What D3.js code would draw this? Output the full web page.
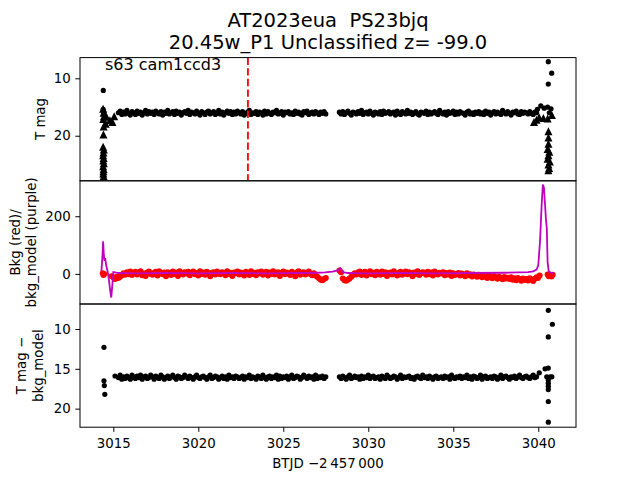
<!DOCTYPE html>
<html><head><meta charset="utf-8">
<script src="https://cdn.jsdelivr.net/npm/d3@7"></script>
<style>body{margin:0;background:#fff} svg{display:block} text{font-family:"DejaVu Sans",sans-serif;fill:#000;white-space:pre}</style>
</head><body><svg id="c" width="640" height="480"></svg>
<script>
// ---------------- data ----------------
const timesA = [3015.3,3015.4,3015.5,3015.6,3015.7,3015.8,3015.9,3016.0,3016.1,3016.2,
3016.3,3016.4,3016.5,3016.6,3016.7,3016.8,3016.9,3017.0,3017.1,3017.2,
3017.3,3017.4,3017.5,3017.6,3017.7,3017.8,3017.9,3018.0,3018.1,3018.2,
3018.3,3018.4,3018.5,3018.6,3018.7,3018.8,3018.9,3019.0,3019.1,3019.2,
3019.3,3019.4,3019.5,3019.6,3019.7,3019.8,3019.9,3020.0,3020.1,3020.2,
3020.3,3020.4,3020.5,3020.6,3020.7,3020.8,3020.9,3021.0,3021.1,3021.2,
3021.3,3021.4,3021.5,3021.6,3021.7,3021.8,3021.9,3022.0,3022.1,3022.2,
3022.3,3022.4,3022.5,3022.6,3022.7,3022.8,3022.9,3023.0,3023.1,3023.2,
3023.3,3023.4,3023.5,3023.6,3023.7,3023.8,3023.9,3024.0,3024.1,3024.2,
3024.3,3024.4,3024.5,3024.6,3024.7,3024.8,3024.9,3025.0,3025.1,3025.2,
3025.3,3025.4,3025.5,3025.6,3025.7,3025.8,3025.9,3026.0,3026.1,3026.2,
3026.3,3026.4,3026.5,3026.6,3026.7,3026.8,3026.9,3027.0,3027.1,3027.2,
3027.3,3027.4,3027.5];
const timesB = [3028.3,3028.4,3028.5,3028.6,3028.7,3028.8,3028.9,3029.0,3029.1,3029.2,
3029.3,3029.4,3029.5,3029.6,3029.7,3029.8,3029.9,3030.0,3030.1,3030.2,
3030.3,3030.4,3030.5,3030.6,3030.7,3030.8,3030.9,3031.0,3031.1,3031.2,
3031.3,3031.4,3031.5,3031.6,3031.7,3031.8,3031.9,3032.0,3032.1,3032.2,
3032.3,3032.4,3032.5,3032.6,3032.7,3032.8,3032.9,3033.0,3033.1,3033.2,
3033.3,3033.4,3033.5,3033.6,3033.7,3033.8,3033.9,3034.0,3034.1,3034.2,
3034.3,3034.4,3034.5,3034.6,3034.7,3034.8,3034.9,3035.0,3035.1,3035.2,
3035.3,3035.4,3035.5,3035.6,3035.7,3035.8,3035.9,3036.0,3036.1,3036.2,
3036.3,3036.4,3036.5,3036.6,3036.7,3036.8,3036.9,3037.0,3037.1,3037.2,
3037.3,3037.4,3037.5,3037.6,3037.7,3037.8,3037.9,3038.0,3038.1,3038.2,
3038.3,3038.4,3038.5,3038.6,3038.7,3038.8,3038.9,3039.0,3039.1,3039.2,
3039.3,3039.4,3039.5,3039.6,3039.7,3039.8,3039.9];

// T mag (top panel)
const magA = [16.0,15.7,16.3,15.9,16.2,15.6,16.1,16.4,15.8,16.0,
16.3,15.7,16.1,15.9,16.4,16.0,15.6,16.2,15.8,16.1,
15.9,16.3,15.7,16.0,16.2,15.8,16.4,15.9,16.1,15.6,
16.2,16.0,15.8,16.3,15.7,16.1,15.9,16.4,16.0,15.8,
16.1,15.6,16.3,15.9,16.0,16.2,15.7,16.1,16.4,15.8,
16.0,16.3,15.9,15.7,16.2,16.0,15.8,16.3,16.1,15.6,
16.2,15.9,16.4,16.0,15.7,16.1,15.8,16.3,15.9,16.2,
15.7,16.0,16.2,15.8,16.4,16.1,15.9,15.6,16.3,16.0,
16.1,15.8,16.3,15.9,16.0,16.4,15.7,16.2,15.8,16.1,
16.3,15.9,16.0,15.6,16.2,16.1,15.8,16.4,15.9,16.0,
15.8,16.2,16.0,16.3,15.7,16.1,15.9,16.2,16.4,15.8,
16.0,15.7,16.3,16.1,15.9,16.2,15.8,16.0,16.3,15.9,
16.1,15.8,16.2];
const magB = [15.9,16.2,15.8,16.3,16.0,15.7,16.1,16.4,15.9,16.0,
16.2,15.8,16.1,15.6,16.3,16.0,15.9,16.2,15.7,16.1,
16.4,15.9,16.0,16.2,15.8,16.3,15.7,16.1,16.0,15.8,
16.2,16.0,15.9,16.4,15.7,16.1,16.3,15.8,16.0,16.2,
15.6,16.1,15.9,16.3,16.0,15.8,16.2,16.4,15.9,16.0,
16.1,15.7,16.3,15.9,16.2,16.0,15.8,16.1,16.3,15.6,
16.0,16.2,15.9,16.4,15.8,16.1,16.0,15.7,16.3,15.9,
16.2,15.8,16.0,16.1,16.4,15.9,15.7,16.2,16.0,16.3,
15.9,16.1,15.8,16.2,16.0,16.3,15.7,16.1,15.9,16.4,
16.0,15.8,16.2,15.9,16.1,16.3,15.6,16.0,16.2,15.8,
16.1,16.4,15.9,16.0,15.7,16.2,16.3,15.8,16.1,15.9,
16.0,16.2,15.8,16.1,16.3,15.9,16.0];
const extraDetT = [3014.41,3014.40,3014.44,3014.42,3039.95,3040.15,3040.35,3040.55,3040.75,3040.65,3040.59,3040.79,3040.59];
const extraDetM = [12.1,15.4,15.9,16.3,15.4,14.8,15.2,15.0,15.3,16.0,7.1,9.1,11.0];
// upper limits (triangles)
const limT = [3014.40,3014.43,3014.45,3014.41,3014.43,3014.42,3014.40,3014.44,3014.42,3014.40,3014.43,3014.41,3014.44,3014.40,3014.43,3014.42,3014.41,3014.43,
3014.60,3014.80,3014.95,3015.05,3014.55,
3039.75,3039.90,3040.05,3040.30,3040.55,3040.80,3040.60,3040.60,3040.60,3040.55,3040.65,3040.60,3040.55,3040.68,3040.60,3040.64,3040.60];
const limM = [15.3,16.0,16.6,17.1,18.4,19.8,21.9,22.4,22.9,23.4,23.9,24.3,24.8,25.3,25.8,26.2,26.6,27.0,
16.7,17.3,17.6,16.6,17.9,
17.6,17.2,16.8,16.9,17.0,16.4,19.2,20.3,21.4,22.3,22.8,23.4,24.0,24.5,25.0,25.6,26.0];

// background (middle panel, red)
const bkgA = [-14,-10,-5,2,-3,6,-1,8,-4,3,
7,-2,4,9,-5,1,-7,5,8,0,
-3,4,7,-6,9,2,-1,5,-8,6,
3,-4,8,0,5,-7,9,2,-2,6,
1,7,-5,4,8,-1,3,-6,9,0,
5,-3,7,2,-8,4,6,-2,8,1,
-1,6,3,-5,9,0,4,-7,5,2,
8,-2,5,1,-6,7,3,-4,9,0,
4,-5,6,2,8,-3,1,7,-6,5,
0,9,-2,4,6,-7,3,8,-1,5,
2,-4,7,1,-8,5,9,-3,4,6,
-2,3,8,0,-5,2,-6,-10,-15,-20,
-22,-18,-14];
const bkgB = [12,6,-16,-22,-24,-20,-16,-10,-4,2,
-2,5,8,-4,3,7,-6,1,9,-1,
4,-5,7,2,-3,8,0,6,-7,3,
5,-2,9,1,-6,4,7,-3,2,8,
-1,6,3,-8,5,0,9,-4,2,6,
4,-3,7,-1,5,-6,8,2,-2,4,
1,6,-5,3,-2,5,-7,2,-4,0,
3,-6,1,-3,-8,2,-5,-1,-9,-2,
-6,-10,-3,-8,-12,-4,-9,-14,-6,-11,
-15,-8,-12,-17,-10,-14,-19,-11,-16,-13,
-18,-12,-20,-15,-22,-14,-19,-24,-16,-21,
-18,-23,-15,-20,-25,-17,-12];
const extraBkgT = [3014.38,3014.42,3014.46,3014.90,3015.00,3015.08,3015.16,3015.22,3039.98,3040.08,3040.55,3040.62,3040.70,3040.78,3040.85];
const extraBkgV = [2,-4,0,-8,-12,-18,-16,-10,-14,-6,-2,-8,-5,-9,-3];
// background model (purple line)
const modelT = [3014.30,3014.36,3014.40,3014.44,3014.48,3014.52,3014.58,3014.66,3014.74,3014.82,3014.88,3014.94,3015.00,3015.10,3015.30,3016.50,3018.00,3020.00,3022.00,3024.00,3026.00,3027.00,3027.45,3027.90,3028.20,3028.35,3028.50,3028.80,3030.00,3032.00,3034.00,3036.00,3038.00,3039.40,3039.70,3039.90,3040.00,3040.10,3040.20,3040.27,3040.33,3040.40,3040.45,3040.50,3040.55,3040.62,3040.75,3040.90];
const modelV = [10,60,113,70,45,55,30,10,-20,-60,-82,-40,6,5,3,2,3,2,3,2,3,4,5,8,12,20,6,3,2,3,2,3,4,6,9,15,30,110,240,310,300,240,190,160,40,8,4,3];

// T mag - bkg_model (bottom panel)
const diffA = [16.1,15.8,16.3,16.0,16.2,15.9,16.1,16.3,15.8,16.0,
16.2,15.9,16.1,15.8,16.3,16.0,15.9,16.2,16.1,15.8,
16.0,16.3,15.9,16.1,16.2,15.8,16.0,16.3,16.1,15.9,
16.2,16.0,15.8,16.1,16.3,15.9,16.0,16.2,16.1,15.8,
16.0,16.2,15.9,16.1,16.3,16.0,15.8,16.1,16.2,16.0,
15.9,16.1,16.3,16.0,15.8,16.2,16.1,15.9,16.0,16.3,
16.1,15.9,16.2,16.0,16.3,15.8,16.1,16.0,16.2,15.9,
16.0,16.2,16.1,15.9,16.3,16.0,16.1,15.8,16.2,16.0,
16.1,16.3,15.9,16.0,16.2,15.8,16.1,16.3,16.0,15.9,
16.2,16.0,16.1,15.8,16.3,15.9,16.2,16.0,16.1,15.9,
16.3,16.0,15.8,16.2,16.1,15.9,16.0,16.3,16.1,15.8,
16.0,16.2,15.9,16.1,16.0,16.3,15.8,16.2,16.0,16.1,
15.9,16.2,16.0];
const diffB = [16.0,16.2,15.9,16.1,16.3,16.0,15.8,16.2,16.1,15.9,
16.1,16.0,16.3,15.9,16.2,16.0,16.1,15.8,16.2,16.0,
15.9,16.2,16.1,16.0,16.3,15.9,16.1,16.2,15.8,16.0,
16.2,16.1,15.9,16.0,16.3,16.1,15.8,16.2,16.0,16.1,
16.0,15.9,16.2,16.1,16.3,16.0,15.9,16.1,16.2,15.8,
16.1,16.0,16.2,15.9,16.1,16.3,16.0,15.9,16.2,16.1,
16.0,16.2,15.9,16.1,16.0,16.3,15.8,16.1,16.2,16.0,
16.1,15.9,16.2,16.0,16.1,15.8,16.2,16.0,16.3,15.9,
16.0,16.2,16.1,15.8,16.3,16.0,15.9,16.2,16.1,16.0,
16.2,15.9,16.0,16.3,16.1,15.8,16.2,16.0,15.9,16.1,
16.3,16.0,16.1,15.9,16.2,16.0,15.8,16.1,16.2,16.0,
15.9,16.1,16.2,16.0,15.8,16.1,16.0];
const extraDiffT = [3014.45,3014.45,3014.47,3014.50,3015.10,3040.59,3040.83,3040.59,3040.59,3040.06,3040.40,3040.50,3040.70,3040.80,3040.59,3040.59,3040.59,3040.59,3040.59,3040.59];
const extraDiffM = [12.3,16.5,17.1,18.2,15.9,7.65,9.4,11.0,14.9,15.5,15.0,16.0,16.0,16.0,16.4,16.8,17.2,17.6,19.1,21.7];

const markerTime = 3022.92;
const xTicks = [3015,3020,3025,3030,3035,3040];
const magTicks = [10,20];
const bkgTicks = [0,200];
const diffTicks = [10,15,20];
const titleLines = ["AT2023eua  PS23bjq","20.45w_P1 Unclassified z= -99.0"];
const panelNote = "s63 cam1ccd3";

// ---------------- drawing ----------------
const svg = d3.select("#c");
const L = 80, R = 576;
const P = [57.6, 180.8, 304, 427.2];
const x = d3.scaleLinear().domain([3013.04, 3042.22]).range([L, R]);
const yTop = d3.scaleLinear().domain([6.39, 27.85]).range([P[0], P[1]]);
const yMid = d3.scaleLinear().domain([323, -104.5]).range([P[1], P[2]]);
const yBot = d3.scaleLinear().domain([6.86, 22.33]).range([P[2], P[3]]);

const zip = (t, v) => t.map((d, i) => [d, v[i]]).filter(d => d[1] !== undefined);
const defs = svg.append("defs");
[0,1,2].forEach(i => {
  defs.append("clipPath").attr("id", "clip" + i).append("rect")
    .attr("x", L).attr("y", P[i]).attr("width", R - L).attr("height", P[i+1] - P[i]);
});

// top panel
const gTop = svg.append("g").attr("clip-path", "url(#clip0)");
const topPts = zip(timesA, magA).concat(zip(timesB, magB), zip(extraDetT, extraDetM));
gTop.selectAll("circle").data(topPts).join("circle")
  .attr("cx", d => x(d[0])).attr("cy", d => yTop(d[1])).attr("r", 2.6).attr("fill", "#000");
const tri = "M0,-4L-4,4L4,4Z";
gTop.selectAll("path.lim").data(zip(limT, limM)).join("path").attr("class", "lim")
  .attr("d", tri).attr("transform", d => `translate(${x(d[0])},${yTop(d[1])})`).attr("fill", "#000");
gTop.append("line").attr("x1", x(markerTime)).attr("x2", x(markerTime))
  .attr("y1", P[0]).attr("y2", P[1]).attr("stroke", "#ff0000").attr("stroke-width", 1.8)
  .attr("stroke-dasharray", "7.4,3.2");

// middle panel
const gMid = svg.append("g").attr("clip-path", "url(#clip1)");
const bkgPts = zip(timesA, bkgA).concat(zip(timesB, bkgB), zip(extraBkgT, extraBkgV));
gMid.selectAll("circle").data(bkgPts).join("circle")
  .attr("cx", d => x(d[0])).attr("cy", d => yMid(d[1])).attr("r", 3).attr("fill", "#ff0000");
gMid.append("path").datum(zip(modelT, modelV))
  .attr("d", d3.line().x(d => x(d[0])).y(d => yMid(d[1])))
  .attr("fill", "none").attr("stroke", "#bf00bf").attr("stroke-width", 1.8);

// bottom panel
const gBot = svg.append("g").attr("clip-path", "url(#clip2)");
const diffPts = zip(timesA, diffA).concat(zip(timesB, diffB), zip(extraDiffT, extraDiffM));
gBot.selectAll("circle").data(diffPts).join("circle")
  .attr("cx", d => x(d[0])).attr("cy", d => yBot(d[1])).attr("r", 2.6).attr("fill", "#000");

// axes
function yAxis(scale, ticks) {
  const g = svg.append("g").attr("transform", `translate(${L},0)`)
    .call(d3.axisLeft(scale).tickValues(ticks).tickSize(4.67).tickPadding(4.67).tickFormat(d3.format("d")));
  g.select(".domain").remove();
  g.selectAll("text").attr("font-size", "13.33px").attr("font-family", "DejaVu Sans");
  g.selectAll("line").attr("stroke-width", 1);
}
yAxis(yTop, magTicks); yAxis(yMid, bkgTicks); yAxis(yBot, diffTicks);
const gx = svg.append("g").attr("transform", `translate(0,${P[3]})`)
  .call(d3.axisBottom(x).tickValues(xTicks).tickSize(4.67).tickPadding(6.3).tickFormat(d3.format("d")));
gx.select(".domain").remove();
gx.selectAll("text").attr("font-size", "13.33px").attr("font-family", "DejaVu Sans");
gx.selectAll("line").attr("stroke-width", 1);

// frames
[0,1,2].forEach(i => {
  svg.append("rect").attr("x", L).attr("y", P[i]).attr("width", R - L).attr("height", P[i+1] - P[i])
    .attr("fill", "none").attr("stroke", "#000").attr("stroke-width", 1);
});

// texts
svg.append("text").attr("x", (L + R) / 2).attr("y", 26.5).attr("text-anchor", "middle")
  .attr("font-size", "19.5px").text(titleLines[0]);
svg.append("text").attr("x", (L + R) / 2).attr("y", 49).attr("text-anchor", "middle")
  .attr("font-size", "19.5px").text(titleLines[1]);
svg.append("text").attr("x", 105).attr("y", 70).attr("font-size", "16px").text(panelNote);
svg.append("text").attr("x", (L + R) / 2).attr("y", 468).attr("text-anchor", "middle")
  .attr("font-size", "13.33px").text("BTJD \u22122\u2009457\u2009000");

function ylab(lines, xs, yc) {
  lines.forEach((t, i) => {
    svg.append("text").attr("transform", `translate(${xs[i]},${yc}) rotate(-90)`)
      .attr("text-anchor", "middle").attr("dy", "0.35em").attr("font-size", "13.33px").text(t);
  });
}
ylab(["T mag"], [40], 119);
ylab(["Bkg (red)/", "bkg_model (purple)"], [15, 31], 242.4);
ylab(["T mag \u2212", "bkg_model"], [21, 38], 365.6);
</script></body></html>
